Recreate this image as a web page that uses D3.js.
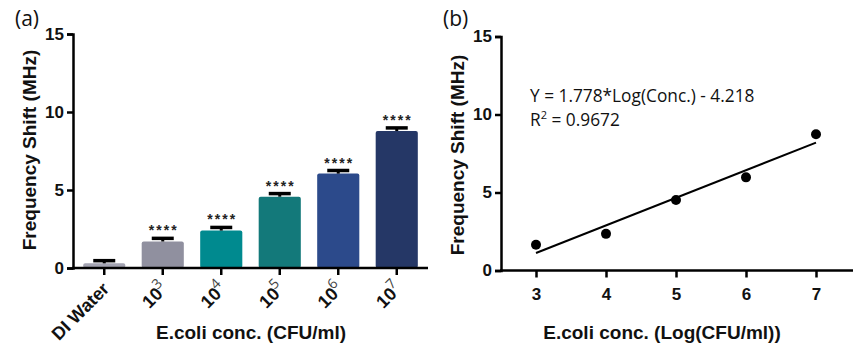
<!DOCTYPE html>
<html lang="en">
<head>
  <meta charset="UTF-8">
  <title>E.coli Frequency Shift</title>
  <script src="https://d3js.org/d3.v7.min.js"></script>
  <style>
    body { margin: 0; background: #fff; }
    svg { display: block; }
    .bold { font-family: "Liberation Sans", Arial, sans-serif; font-weight: bold; }
    .light { font-family: "Open Sans", "Noto Sans", sans-serif; }
  </style>
</head>
<body>
  <svg id="chart" width="865" height="354"></svg>
  <script>
    // panel (a) data
    const categories = ["DI Water", "3", "4", "5", "6", "7"];
    const shifts = [0.3, 1.7, 2.4, 4.57, 6.05, 8.78];
    const errors = [0.17, 0.2, 0.2, 0.2, 0.2, 0.2];
    const barColors = ["#a4a4b2", "#90909f", "#008a8f", "#13797a", "#2c4a8b", "#253766"];
    const stars = ["", "****", "****", "****", "****", "****"];

    // panel (b) data
    const logConc = [3, 4, 5, 6, 7];
    const meanShift = [1.65, 2.35, 4.52, 5.97, 8.73];
    const fitLine = [[3, 1.12], [7, 8.2]];
    const yTicks = [0, 5, 10, 15];
    const xTicksB = [3, 4, 5, 6, 7];

    const svg = d3.select("#chart");

    function yAxisStyle(g) {
      g.select(".domain").attr("stroke-width", 2.5);
      g.selectAll(".tick line").attr("stroke-width", 2.5);
      g.selectAll(".tick text").attr("class", "bold").attr("font-size", 17).attr("fill", "#111");
    }

    // ---------- panel (a) ----------
    const xa = d3.scaleBand().domain(categories).range([75, 426]).paddingInner(0.28).paddingOuter(0.14);
    const ya = d3.scaleLinear().domain([0, 15]).range([268, 34]);

    const ga = svg.append("g");

    ga.selectAll("rect.bar")
      .data(shifts)
      .join("rect")
      .attr("class", "bar")
      .attr("x", (d, i) => xa(categories[i]))
      .attr("width", xa.bandwidth())
      .attr("y", d => ya(d))
      .attr("height", d => ya(0) - ya(d))
      .attr("rx", 2)
      .attr("fill", (d, i) => barColors[i]);

    // error bars
    ga.selectAll("line.err")
      .data(shifts)
      .join("line")
      .attr("class", "err")
      .attr("x1", (d, i) => xa(categories[i]) + xa.bandwidth() / 2)
      .attr("x2", (d, i) => xa(categories[i]) + xa.bandwidth() / 2)
      .attr("y1", d => ya(d))
      .attr("y2", (d, i) => ya(d + errors[i]))
      .attr("stroke", "#000")
      .attr("stroke-width", 3);
    ga.selectAll("line.cap")
      .data(shifts)
      .join("line")
      .attr("class", "cap")
      .attr("x1", (d, i) => xa(categories[i]) + xa.bandwidth() / 2 - 11)
      .attr("x2", (d, i) => xa(categories[i]) + xa.bandwidth() / 2 + 11)
      .attr("y1", (d, i) => ya(d + errors[i]))
      .attr("y2", (d, i) => ya(d + errors[i]))
      .attr("stroke", "#000")
      .attr("stroke-width", 3.5);

    ga.selectAll("text.star")
      .data(shifts)
      .join("text")
      .attr("class", "star bold")
      .attr("x", (d, i) => xa(categories[i]) + xa.bandwidth() / 2 + 1)
      .attr("y", (d, i) => ya(d + errors[i]) - 3)
      .attr("text-anchor", "middle")
      .attr("font-size", 14)
      .attr("letter-spacing", 2)
      .attr("fill", "#222")
      .text((d, i) => stars[i]);

    const yAxisA = ga.append("g")
      .attr("transform", "translate(73,0)")
      .call(d3.axisLeft(ya).tickValues(yTicks).tickSize(6).tickPadding(3));
    yAxisStyle(yAxisA);

    const xAxisA = ga.append("g")
      .attr("transform", `translate(0,${ya(0)})`)
      .call(d3.axisBottom(xa).tickSize(7).tickFormat(""));
    xAxisA.select(".domain").attr("stroke-width", 2.5).attr("d", "M72,0H428");
    xAxisA.selectAll(".tick line").attr("stroke-width", 2.5);

    // rotated category labels
    const lab = ga.selectAll("text.cat")
      .data(categories)
      .join("text")
      .attr("class", "cat bold")
      .attr("font-size", 18)
      .attr("fill", "#111")
      .attr("text-anchor", "end")
      .attr("transform", d => `translate(${xa(d) + xa.bandwidth() / 2 + 6},${ya(0) + 22}) rotate(-45)`);
    lab.each(function(d) {
      const t = d3.select(this);
      if (d === "DI Water") { t.text(d); return; }
      t.append("tspan").text("10");
      t.append("tspan").attr("class", "light").attr("font-weight", "normal")
        .attr("font-size", 14).attr("dx", -1).attr("dy", -8).attr("fill", "#444").text(d);
    });

    ga.append("text")
      .attr("class", "bold")
      .attr("x", 251).attr("y", 339)
      .attr("text-anchor", "middle")
      .attr("font-size", 19)
      .attr("fill", "#111")
      .text("E.coli conc. (CFU/ml)");

    ga.append("text")
      .attr("class", "bold")
      .attr("transform", "translate(36,150) rotate(-90)")
      .attr("text-anchor", "middle")
      .attr("font-size", 19)
      .attr("fill", "#111")
      .text("Frequency Shift (MHz)");

    ga.append("text")
      .attr("class", "light")
      .attr("x", 15).attr("y", 26)
      .attr("font-size", 21)
      .attr("fill", "#111")
      .text("(a)");

    // ---------- panel (b) ----------
    const xb = d3.scaleLinear().domain([2.5, 7.5]).range([501, 851]);
    const yb = d3.scaleLinear().domain([0, 15]).range([270.5, 36.5]);
    const gb = svg.append("g");

    gb.append("path")
      .datum(fitLine)
      .attr("fill", "none")
      .attr("stroke", "#000")
      .attr("stroke-width", 2)
      .attr("d", d3.line().x(d => xb(d[0])).y(d => yb(d[1])));

    gb.selectAll("circle")
      .data(logConc)
      .join("circle")
      .attr("cx", d => xb(d))
      .attr("cy", (d, i) => yb(meanShift[i]))
      .attr("r", 5)
      .attr("fill", "#000");

    const yAxisB = gb.append("g")
      .attr("transform", "translate(501,0)")
      .call(d3.axisLeft(yb).tickValues(yTicks).tickSize(6).tickPadding(3));
    yAxisStyle(yAxisB);

    const xAxisB = gb.append("g")
      .attr("transform", `translate(0,${yb(0)})`)
      .call(d3.axisBottom(xb).tickValues(xTicksB).tickSize(7).tickPadding(10).tickFormat(d3.format("d")));
    xAxisB.select(".domain").attr("stroke-width", 2.5).attr("d", "M500,0H853");
    xAxisB.selectAll(".tick line").attr("stroke-width", 2.5);
    xAxisB.selectAll(".tick text").attr("class", "bold").attr("font-size", 17).attr("fill", "#111");

    gb.append("text")
      .attr("class", "bold")
      .attr("x", 662).attr("y", 339)
      .attr("text-anchor", "middle")
      .attr("font-size", 19)
      .attr("fill", "#111")
      .text("E.coli conc. (Log(CFU/ml))");

    gb.append("text")
      .attr("class", "bold")
      .attr("transform", "translate(464,155) rotate(-90)")
      .attr("text-anchor", "middle")
      .attr("font-size", 19)
      .attr("fill", "#111")
      .text("Frequency Shift (MHz)");

    gb.append("text")
      .attr("class", "light")
      .attr("x", 443).attr("y", 26)
      .attr("font-size", 21)
      .attr("fill", "#111")
      .text("(b)");

    gb.append("text")
      .attr("class", "light")
      .attr("x", 530).attr("y", 102)
      .attr("font-size", 17.3)
      .attr("fill", "#111")
      .text("Y = 1.778*Log(Conc.) - 4.218");

    const r2 = gb.append("text")
      .attr("class", "light")
      .attr("x", 530).attr("y", 126)
      .attr("font-size", 17.3)
      .attr("fill", "#111");
    r2.append("tspan").text("R");
    r2.append("tspan").attr("font-size", 11).attr("dy", -7).text("2");
    r2.append("tspan").attr("dy", 7).text(" = 0.9672");
  </script>
</body>
</html>
